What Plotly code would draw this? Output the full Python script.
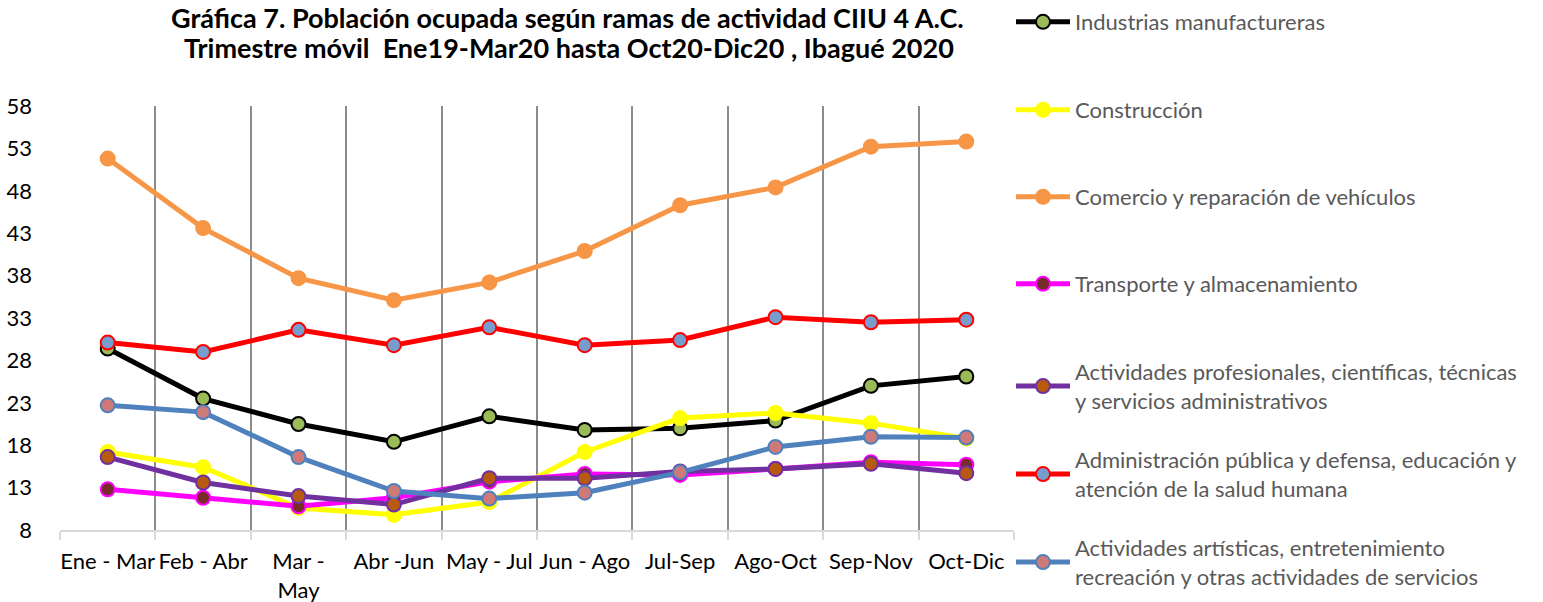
import plotly.graph_objects as go

categories = ["Ene - Mar", "Feb - Abr", "Mar -<br>May", "Abr -Jun", "May - Jul",
              "Jun - Ago", "Jul-Sep", "Ago-Oct", "Sep-Nov", "Oct-Dic"]

industrias = [29.4, 23.5, 20.5, 18.4, 21.4, 19.8, 20.0, 20.9, 25.0, 26.1]
construccion = [17.2, 15.4, 10.6, 9.8, 11.3, 17.2, 21.2, 21.8, 20.6, 18.8]
comercio = [51.8, 43.6, 37.7, 35.1, 37.2, 40.9, 46.3, 48.4, 53.2, 53.8]
transporte = [12.8, 11.8, 10.8, 11.8, 13.7, 14.6, 14.5, 15.2, 16.0, 15.7]
profesionales = [16.6, 13.6, 12.0, 11.0, 14.1, 14.1, 14.9, 15.2, 15.8, 14.7]
administracion = [30.1, 29.0, 31.6, 29.8, 31.9, 29.8, 30.4, 33.1, 32.5, 32.8]
artisticas = [22.7, 21.9, 16.6, 12.6, 11.7, 12.4, 14.8, 17.8, 19.0, 18.9]

y_ticks = [8, 13, 18, 23, 28, 33, 38, 43, 48, 53, 58]

series = [
    ("Industrias manufactureras", industrias, "#000000", "#9BBB59", "#000000"),
    ("Construcción", construccion, "#FFFF00", "#FFFF00", "#FFFF00"),
    ("Comercio y reparación de vehículos", comercio, "#F79646", "#F79646", "#F79646"),
    ("Transporte y almacenamiento", transporte, "#FF00FF", "#772C2A", "#FF00FF"),
    ("Actividades profesionales, científicas, técnicas<br>y servicios administrativos",
     profesionales, "#7030A0", "#B85A0E", "#7030A0"),
    ("Administración pública y defensa, educación y<br>atención de la salud humana",
     administracion, "#FF0000", "#769DCD", "#FF0000"),
    ("Actividades artísticas, entretenimiento<br>recreación y otras actividades de servicios",
     artisticas, "#4F81BD", "#CF7A77", "#4F81BD"),
]

W, H = 1543, 602
L, R, T, B = 60, 1014, 106, 530

fig = go.Figure()
legend_names = ["legend", "legend2", "legend3", "legend4", "legend5", "legend6", "legend7"]
legend_centers_px = [22, 110, 197, 284, 386.5, 474.5, 562.5]

for (name, vals, lc, mfill, mline), lg in zip(series, legend_names):
    fig.add_trace(go.Scatter(
        x=categories, y=vals, name=name, mode="lines+markers",
        line=dict(color=lc, width=5),
        marker=dict(size=14, color=mfill, line=dict(color=mline, width=2)),
        legend=lg,
    ))

font_family = "Lato, Carlito, Calibri, sans-serif"
layout_legends = {}
for lg, cy in zip(legend_names, legend_centers_px):
    layout_legends[lg] = dict(
        x=(1011 - L) / (R - L), xanchor="left",
        y=(B - cy) / (B - T), yanchor="middle",
        bgcolor="rgba(0,0,0,0)",
        font=dict(family=font_family, size=22, color="#595959"),
        itemwidth=54,
    )

fig.update_layout(
    width=W, height=H,
    margin=dict(l=L, r=W - R, t=T, b=H - B, autoexpand=False),
    paper_bgcolor="white", plot_bgcolor="white",
    showlegend=True,
    font=dict(family=font_family, size=22, color="#000000"),
    **layout_legends,
)

fig.update_xaxes(
    type="category", tickson="boundaries",
    showgrid=True, gridcolor="#8C8C8C", gridwidth=1.5,
    showline=True, linecolor="#D9D9D9", linewidth=1.5,
    ticks="outside", ticklen=8, tickcolor="#D9D9D9", tickwidth=1.5,
    tickangle=0, tickfont=dict(size=22, color="#000000"),
    ticklabelstandoff=11,
    range=[-0.5, 9.5], fixedrange=True,
)
fig.update_yaxes(
    range=[8, 58], tickvals=y_ticks, showgrid=False, zeroline=False,
    showline=False, tickfont=dict(size=22, color="#000000"),
    ticklabelstandoff=27, fixedrange=True,
)

fig.add_annotation(
    text="<b>Gráfica 7. Población ocupada según ramas de actividad CIIU 4 A.C.</b>",
    xref="paper", yref="paper", x=(567 - L) / (R - L), y=(B - 0) / (B - T),
    xanchor="center", yanchor="top", showarrow=False, borderpad=0,
    font=dict(family=font_family, size=27, color="#000000"),
)
fig.add_annotation(
    text="<b>Trimestre móvil  Ene19-Mar20 hasta Oct20-Dic20 , Ibagué 2020</b>",
    xref="paper", yref="paper", x=(569 - L) / (R - L), y=(B - 47) / (B - T),
    xanchor="center", yanchor="middle", showarrow=False,
    font=dict(family=font_family, size=27, color="#000000"),
)

fig.write_html("out.html", config={"displayModeBar": False},
               post_script="document.body.style.margin='0';")
